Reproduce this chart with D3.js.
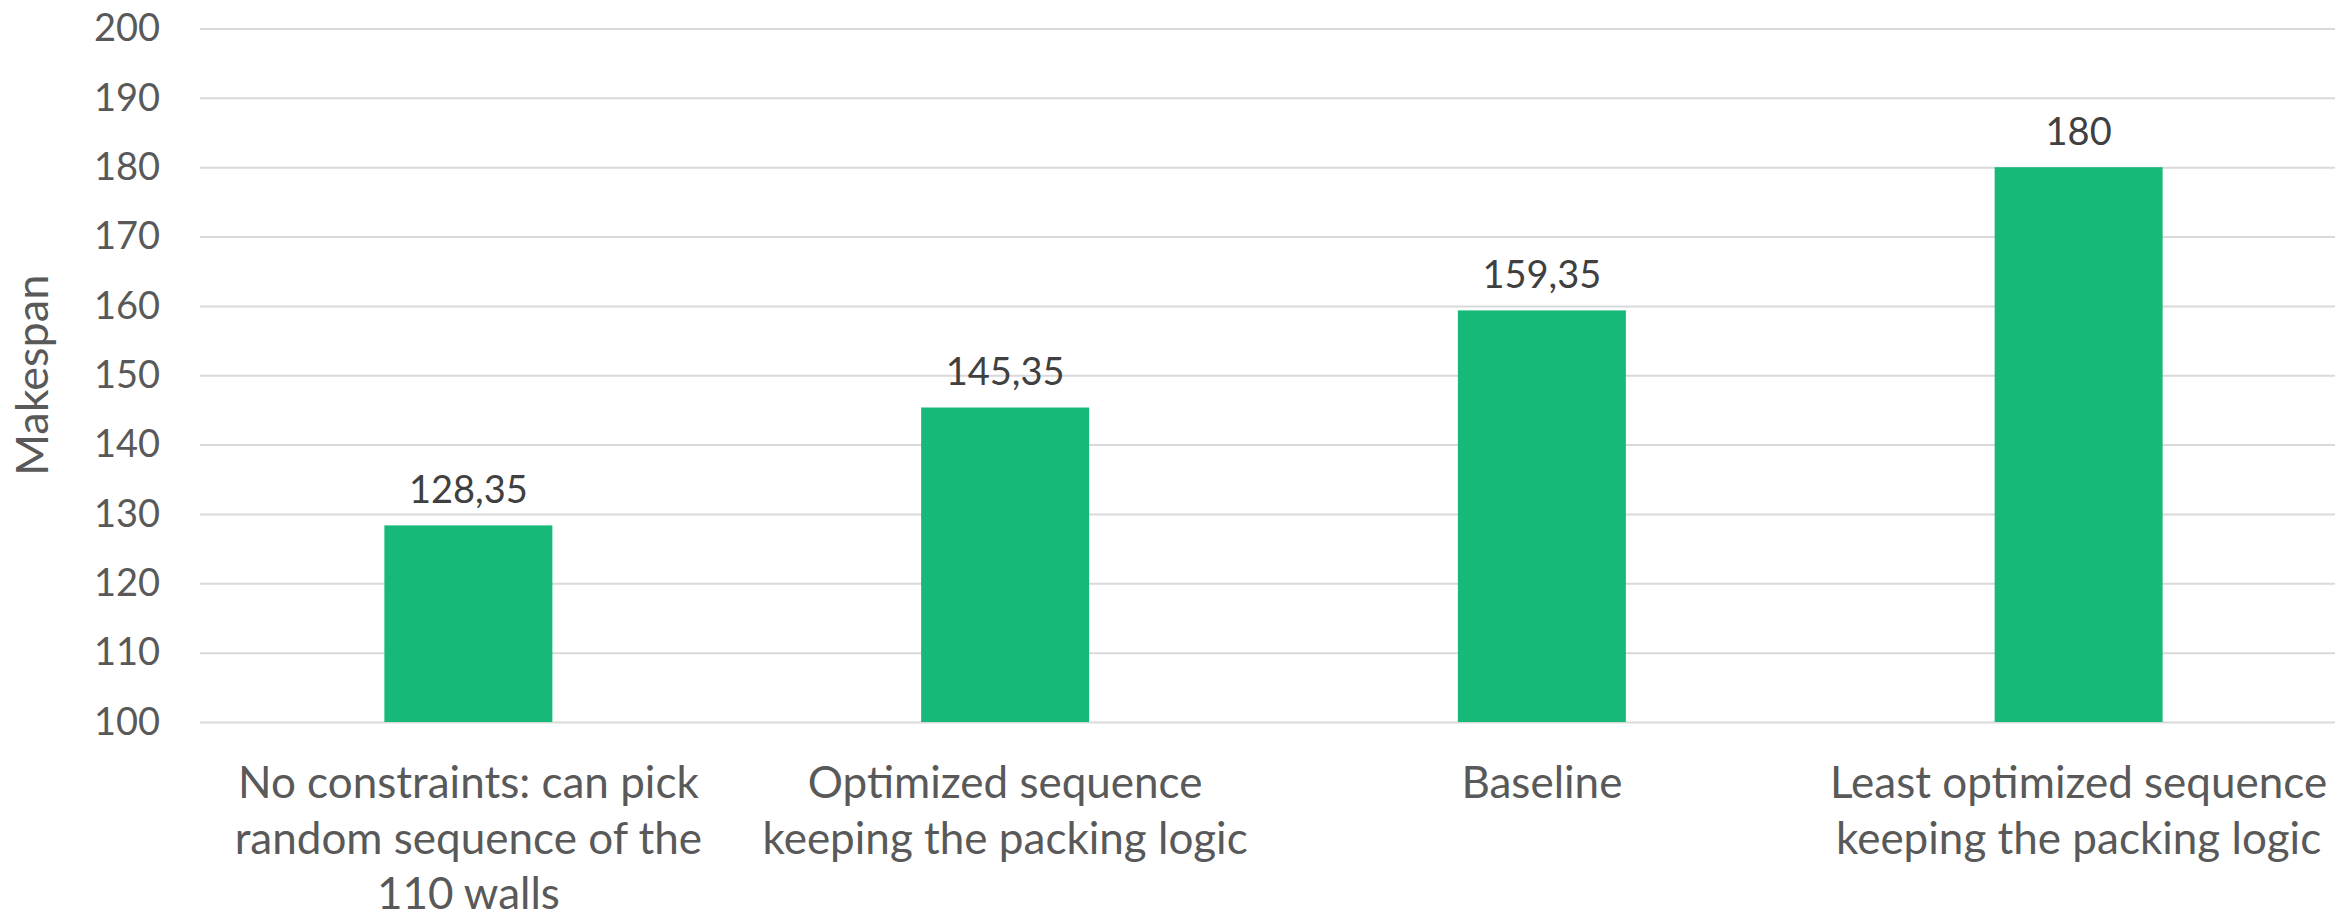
<!DOCTYPE html>
<html>
<head>
<meta charset="utf-8">
<script src="https://cdn.jsdelivr.net/npm/d3@7"></script>
<style>
  html, body { margin: 0; padding: 0; background: #ffffff; }
  svg { display: block; }
</style>
</head>
<body>
<script>
// Makespan per sequencing strategy
const categories = [
  "No constraints: can pick\nrandom sequence of the\n110 walls",
  "Optimized sequence\nkeeping the packing logic",
  "Baseline",
  "Least optimized sequence\nkeeping the packing logic"
];
const makespan = [128.35, 145.35, 159.35, 180];
const valueLabels = ["128,35", "145,35", "159,35", "180"];
const yTicks = [100, 110, 120, 130, 140, 150, 160, 170, 180, 190, 200];
const yTitle = "Makespan";

const W = 2335, H = 919;
const plot = { left: 200, right: 2347, top: 28.5, bottom: 722 };
const font = "Lato, 'Open Sans', sans-serif";

const svg = d3.select("body").append("svg")
  .attr("width", W).attr("height", H)
  .style("font-family", font);

const x = d3.scaleBand()
  .domain(categories)
  .range([plot.left, plot.right])
  .paddingInner(0.687)
  .paddingOuter(0.3435);

const y = d3.scaleLinear()
  .domain([100, 200])
  .range([plot.bottom, plot.top]);

// horizontal gridlines with tick labels
const yAxis = d3.axisLeft(y).tickValues(yTicks).tickSize(-(plot.right - plot.left)).tickPadding(40);
const gy = svg.append("g")
  .attr("transform", `translate(${plot.left},0)`)
  .call(yAxis);
gy.select(".domain").remove();
gy.selectAll(".tick line").attr("stroke", "#d9d9d9").attr("stroke-width", 2);
gy.selectAll(".tick text")
  .attr("fill", "#595959")
  .style("font-size", "38px")
  .style("font-family", font);

// bars
svg.append("g").selectAll("rect")
  .data(makespan)
  .join("rect")
  .attr("x", (d, i) => x(categories[i]))
  .attr("width", x.bandwidth())
  .attr("y", d => y(d))
  .attr("height", d => y(100) - y(d))
  .attr("fill", "#17b978");

// value labels above bars
svg.append("g").selectAll("text")
  .data(makespan)
  .join("text")
  .attr("x", (d, i) => x(categories[i]) + x.bandwidth() / 2)
  .attr("y", d => y(d) - 22)
  .attr("text-anchor", "middle")
  .attr("fill", "#404040")
  .style("font-size", "38px")
  .text((d, i) => valueLabels[i]);

// category labels, wrapped over several lines
const cat = svg.append("g").selectAll("text")
  .data(categories)
  .join("text")
  .attr("text-anchor", "middle")
  .attr("fill", "#595959")
  .style("font-size", "44px")
  .attr("transform", d => `translate(${x(d) + x.bandwidth() / 2},798)`);
cat.selectAll("tspan")
  .data(d => d.split("\n"))
  .join("tspan")
  .attr("x", 0)
  .attr("y", (d, i) => i * 55.5)
  .text(d => d);

// y-axis title
svg.append("text")
  .attr("transform", `translate(48,${(plot.top + plot.bottom) / 2}) rotate(-90)`)
  .attr("text-anchor", "middle")
  .attr("fill", "#595959")
  .style("font-size", "45px")
  .text(yTitle);
</script>
</body>
</html>
